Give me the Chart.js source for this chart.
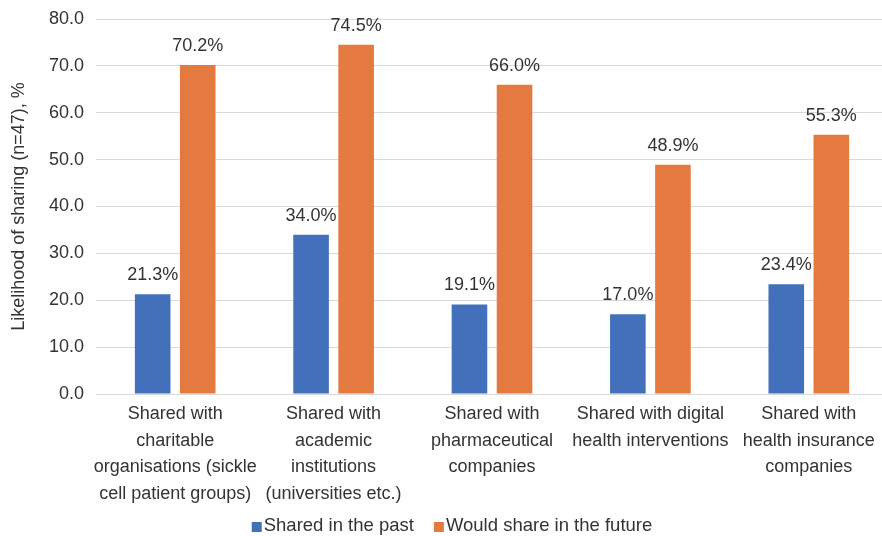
<!DOCTYPE html>
<html><head><meta charset="utf-8">
<script src="https://cdn.jsdelivr.net/npm/chart.js@4.4.1/dist/chart.umd.min.js"></script>
<style>html,body{margin:0;padding:0;background:#fff;overflow:hidden;}#wrap{width:882px;height:536px;position:relative;overflow:hidden;}#inner{width:888px;height:536px;position:absolute;left:0;top:0;}</style>
</head><body><div id="wrap"><div id="inner"><canvas id="c"></canvas></div></div>
<script>
const categories = [
  ["Shared with","charitable","organisations (sickle","cell patient groups)"],
  ["Shared with","academic","institutions","(universities etc.)"],
  ["Shared with","pharmaceutical","companies"],
  ["Shared with digital","health interventions"],
  ["Shared with","health insurance","companies"]
];
const pastValues = [21.3, 34.0, 19.1, 17.0, 23.4];
const futureValues = [70.2, 74.5, 66.0, 48.9, 55.3];
const seriesNames = ["Shared in the past", "Would share in the future"];
const yTitle = "Likelihood of sharing (n=47), %";

const FONT = "'Liberation Sans', Arial, Helvetica, sans-serif";
const TEXT = "#333333";
const COLORS = ['#4270BA', '#E47A40'];

const labelPlugin = {
  id: 'vlabels',
  afterDatasetsDraw(chart) {
    const ctx = chart.ctx;
    ctx.save();
    ctx.font = "18px " + FONT;
    ctx.fillStyle = TEXT;
    ctx.textAlign = "center";
    ctx.textBaseline = "alphabetic";
    chart.data.datasets.forEach((ds, di) => {
      const meta = chart.getDatasetMeta(di);
      meta.data.forEach((el, i) => {
        ctx.fillText(ds.data[i].toFixed(1) + "%", el.x, el.y - 14);
      });
    });
    ctx.restore();
  }
};

const legendPlugin = {
  id: 'customLegend',
  afterDraw(chart) {
    const ctx = chart.ctx;
    ctx.save();
    ctx.font = "18.5px " + FONT;
    ctx.textBaseline = "alphabetic";
    ctx.textAlign = "left";
    const box = 10, gap = 2, itemGap = 20;
    const widths = chart.data.datasets.map(d => ctx.measureText(d.label).width);
    let total = 0;
    widths.forEach((w, i) => { total += box + gap + w + (i < widths.length - 1 ? itemGap : 0); });
    let x = 452 - total / 2;
    const base = 531;
    chart.data.datasets.forEach((d, i) => {
      ctx.fillStyle = d.backgroundColor;
      ctx.fillRect(x, base - 9, box, box);
      x += box + gap;
      ctx.fillStyle = TEXT;
      ctx.fillText(d.label, x, base);
      x += widths[i] + itemGap;
    });
    ctx.restore();
  }
};

new Chart(document.getElementById('c'), {
  type: 'bar',
  data: {
    labels: categories,
    datasets: [
      { label: seriesNames[0], data: pastValues, backgroundColor: COLORS[0], categoryPercentage: 0.569, barPercentage: 0.79 },
      { label: seriesNames[1], data: futureValues, backgroundColor: COLORS[1], categoryPercentage: 0.569, barPercentage: 0.79 }
    ]
  },
  options: {
    responsive: true,
    maintainAspectRatio: false,
    animation: false,
    layout: { padding: { left: 0, right: 0, top: 0, bottom: 0 } },
    plugins: {
      legend: { display: false },
      tooltip: { enabled: false }
    },
    scales: {
      x: {
        grid: { display: false },
        border: { color: '#d9d9d9' },
        afterFit: s => { s.height = 142; },
        ticks: { font: { family: FONT, size: 18, lineHeight: 1.47 }, color: TEXT, maxRotation: 0, autoSkip: false, padding: -1 }
      },
      y: {
        min: 0, max: 80,
        afterFit: s => { s.width = 96; },
        ticks: { stepSize: 10, font: { family: FONT, size: 18, lineHeight: 0.78 }, color: TEXT, callback: v => v.toFixed(1), padding: 12 },
        grid: { color: '#d9d9d9', drawTicks: false },
        border: { display: false },
        title: { display: true, text: yTitle, font: { family: FONT, size: 18 }, color: TEXT, padding: { top: 8, bottom: 4 } }
      }
    }
  },
  plugins: [labelPlugin, legendPlugin]
});
</script></body></html>
